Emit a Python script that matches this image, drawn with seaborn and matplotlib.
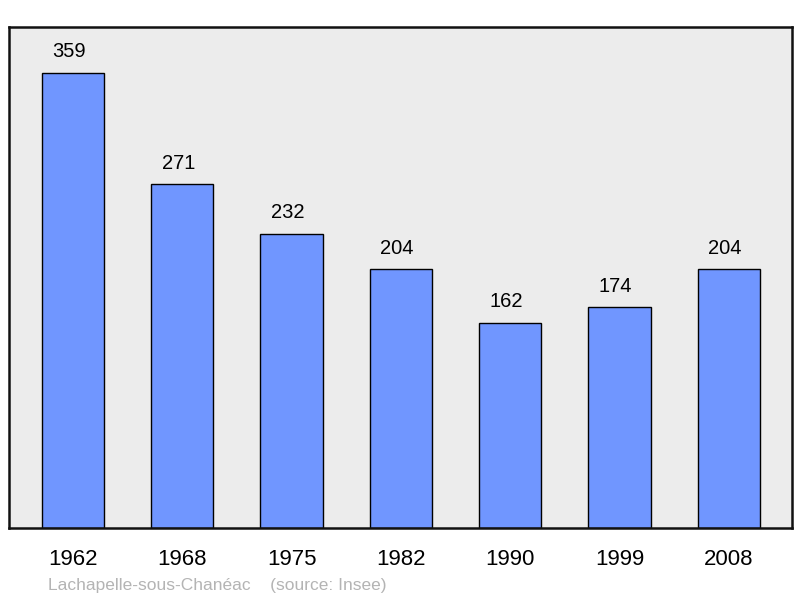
import matplotlib
matplotlib.use('Agg')
import matplotlib.pyplot as plt
import seaborn as sns
import pandas as pd

# population by census year
years = ['1962', '1968', '1975', '1982', '1990', '1999', '2008']
population = [359, 271, 232, 204, 162, 174, 204]

df = pd.DataFrame({'year': years, 'pop': population})

sns.set_style('white')
plt.rcParams['font.family'] = ['Liberation Sans', 'DejaVu Sans']

fig = plt.figure(figsize=(8, 5.98), dpi=100)
ax = fig.add_axes([0.01125, 0.117, 0.979, 0.838])
ax.set_facecolor('#ececec')

sns.barplot(data=df, x='year', y='pop', color='#7096ff', saturation=1,
            width=0.57, edgecolor='black', linewidth=1.0, ax=ax)

# value labels sit slightly left of the bar centre, like the original
for i, v in enumerate(population):
    ax.text(i - 0.035, v + 9, str(v), ha='center', va='bottom', fontsize=14.5,
            color='black')

ax.set_xlim(-0.586, 6.58)
ax.set_ylim(0, 395)
ax.set_yticks([])
ax.set_xlabel('')
ax.set_ylabel('')
ax.tick_params(axis='x', length=0, labelsize=16, pad=15, labelcolor='black')
for s in ax.spines.values():
    s.set_linewidth(1.8)
    s.set_color('#111111')

fig.text(0.06, 0.014, 'Lachapelle-sous-Chanéac    (source: Insee)',
         color='#b4b4b4', fontsize=12.5)

fig.savefig('out.png', dpi=100)
